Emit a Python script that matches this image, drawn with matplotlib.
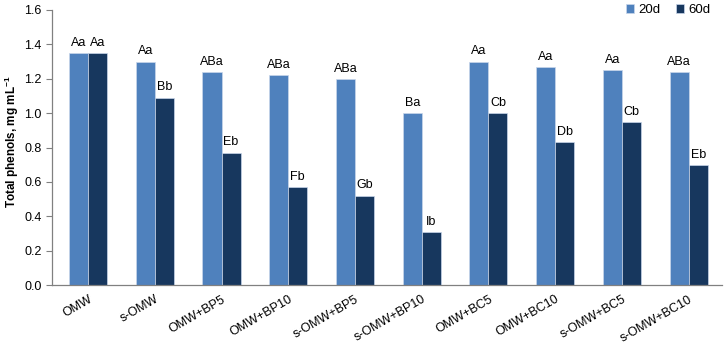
import numpy as np
import matplotlib
matplotlib.use("Agg")
import matplotlib.pyplot as plt

plt.rcParams['font.family'] = ['Liberation Sans', 'DejaVu Sans']

samples = ["OMW", "s-OMW", "OMW+BP5", "OMW+BP10", "s-OMW+BP5", "s-OMW+BP10",
           "OMW+BC5", "OMW+BC10", "s-OMW+BC5", "s-OMW+BC10"]
d20 = [1.35, 1.30, 1.24, 1.22, 1.20, 1.00, 1.30, 1.27, 1.25, 1.24]
d60 = [1.35, 1.09, 0.77, 0.57, 0.52, 0.31, 1.00, 0.83, 0.95, 0.70]
lab20 = ["Aa", "Aa", "ABa", "ABa", "ABa", "Ba", "Aa", "Aa", "Aa", "ABa"]
lab60 = ["Aa", "Bb", "Eb", "Fb", "Gb", "Ib", "Cb", "Db", "Cb", "Eb"]

c20 = "#4f81bd"
c60 = "#17375e"

fig = plt.figure(figsize=(7.24, 3.47), dpi=100)
ax = fig.add_axes([52 / 724, 1 - 285 / 347, 670 / 724, 275 / 347])

x = np.arange(len(samples))
w = 0.285
ax.bar(x - w / 2, d20, w, color=c20, edgecolor="#c9d6ea", linewidth=0.5, label="20d")
ax.bar(x + w / 2, d60, w, color=c60, edgecolor="#c9d6ea", linewidth=0.5, label="60d")

for xi, v, t in zip(x - w / 2, d20, lab20):
    ax.annotate(t, (xi, v), xytext=(0, 3), textcoords="offset points",
                ha="center", va="bottom", fontsize=9)
for xi, v, t in zip(x + w / 2, d60, lab60):
    ax.annotate(t, (xi, v), xytext=(0, 3), textcoords="offset points",
                ha="center", va="bottom", fontsize=9)

ax.set_ylim(0, 1.6)
ax.set_xlim(-0.54, 9.5)
ax.set_yticks(np.arange(0, 1.61, 0.2))
ax.set_yticklabels(["%.1f" % v for v in np.arange(0, 1.61, 0.2)], fontsize=9)
ax.set_xticks(x)
ax.set_xticklabels(samples, rotation=30, ha="right", va="top",
                   rotation_mode="anchor", fontsize=9)
ax.tick_params(axis="x", length=0, pad=6)
ax.tick_params(axis="y", length=4, color="#808080", width=0.8)

for s in ["top", "right"]:
    ax.spines[s].set_visible(False)
ax.spines["left"].set_color("#808080")
ax.spines["bottom"].set_color("#808080")
ax.spines["left"].set_linewidth(0.9)
ax.spines["bottom"].set_linewidth(0.9)

ax.set_ylabel("Total phenols, mg mL$^{\\mathregular{-1}}$", fontsize=8.5, fontweight="bold")
ax.yaxis.set_label_coords(-0.046, 0.52)

ax.legend(loc="upper right", bbox_to_anchor=(0.99, 1.04), ncol=2, frameon=False,
          fontsize=9.5, handlelength=0.6, handleheight=0.6, handletextpad=0.3,
          columnspacing=1.2, borderaxespad=0)

fig.savefig("out.png", dpi=100)
